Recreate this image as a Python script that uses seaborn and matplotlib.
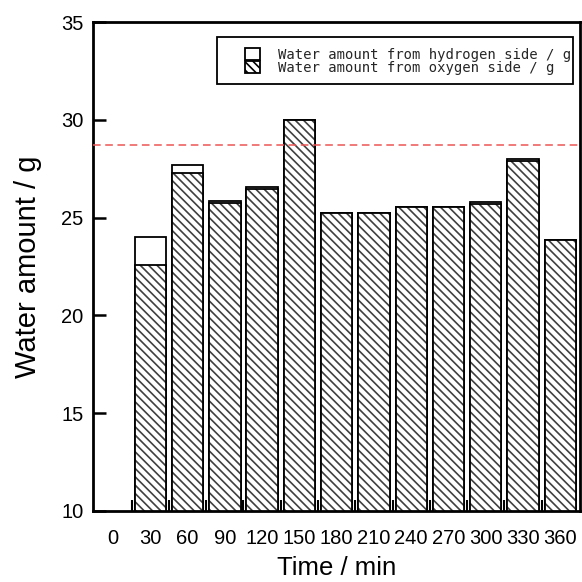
import numpy as np
import matplotlib
matplotlib.use("Agg")
import matplotlib.pyplot as plt
import matplotlib.patches as mpatches
import seaborn as sns

# Datos
time_min = [30, 60, 90, 120, 150, 180, 210, 240, 270, 300, 330, 360]
water_oxygen = [22.6, 27.3, 25.75, 26.45, 30.0, 25.25, 25.25, 25.55, 25.55, 25.7, 27.9, 23.85]
water_hydrogen = [1.4, 0.4, 0.1, 0.1, 0.0, 0.0, 0.0, 0.0, 0.0, 0.1, 0.1, 0.0]
water_total = [o + h for o, h in zip(water_oxygen, water_hydrogen)]
ref_level = 28.7
x_ticks = [0, 30, 60, 90, 120, 150, 180, 210, 240, 270, 300, 330, 360]
y_ticks = [10, 15, 20, 25, 30, 35]

label_h = "Water amount from hydrogen side / g"
label_o = "Water amount from oxygen side / g"

sns.set_style("ticks")
plt.rcParams["font.family"] = ["Liberation Sans", "DejaVu Sans"]
plt.rcParams["hatch.linewidth"] = 1.2

fig = plt.figure(figsize=(5.82, 5.82), dpi=100)
ax = fig.add_axes([0.160, 0.122, 0.837, 0.840])

hatch = "\\" * 4
bar_kw = dict(native_scale=True, width=0.84, saturation=1, ax=ax)
# total (parte blanca = lado hidrógeno)
sns.barplot(x=time_min, y=water_total, color="white", edgecolor="black",
            linewidth=1.3, **bar_kw)
# lado oxígeno rayado (trama gris) + contorno negro
sns.barplot(x=time_min, y=water_oxygen, color="white", edgecolor="0.25",
            linewidth=0, hatch=hatch, **bar_kw)
sns.barplot(x=time_min, y=water_oxygen, fill=False, edgecolor="black",
            linewidth=1.3, **bar_kw)

ax.axhline(ref_level, color="#ee5555", ls=(0, (5, 3)), lw=1.1, zorder=3)

ax.set_xlim(-16, 376)
ax.set_ylim(10, 35)
ax.set_xticks(x_ticks)
ax.set_xticklabels([str(t) for t in x_ticks])
ax.set_xticks(np.arange(15, 360, 30), minor=True)
ax.set_yticks(y_ticks)

ax.tick_params(axis="x", which="major", length=0, pad=13, labelsize=14.5,
               labelcolor="black")
ax.tick_params(axis="x", which="minor", direction="in", length=8, width=1.5,
               color="black")
ax.tick_params(axis="y", which="major", direction="in", length=9, width=1.8,
               pad=7, labelsize=14.5, labelcolor="black", color="black")

for sp in ax.spines.values():
    sp.set_linewidth(2)
    sp.set_color("black")

ax.set_xlabel("Time / min", fontsize=18.5, labelpad=6, color="black")
ax.set_ylabel("Water amount / g", fontsize=21, labelpad=14, color="black")

handles = [
    mpatches.Patch(facecolor="white", edgecolor="black", linewidth=1.3, label=label_h),
    mpatches.Patch(facecolor="white", edgecolor="black", linewidth=1.3, hatch=hatch, label=label_o),
]
leg = ax.legend(handles=handles, loc="upper right", bbox_to_anchor=(0.982, 0.947),
                frameon=False, borderaxespad=0, borderpad=0, labelspacing=-0.1,
                handlelength=1.08, handleheight=1.0, handletextpad=1.3,
                prop={"family": "DejaVu Sans Mono", "size": 10})

# Marco de la leyenda
ax.add_patch(mpatches.Rectangle((0.255, 0.873), 0.731, 0.096, transform=ax.transAxes,
                                fill=False, edgecolor="black", linewidth=1.3, zorder=4))

fig.savefig("out.png", dpi=100)
plt.close(fig)
